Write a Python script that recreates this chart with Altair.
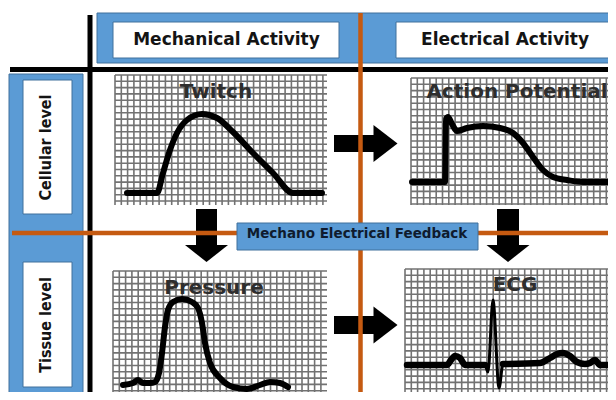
import altair as alt
import pandas as pd
import numpy as np

# ---------------- data (texts and waveform values) ----------------
header_labels = ["Mechanical Activity", "Electrical Activity"]
row_labels = ["Cellular level", "Tissue level"]
panel_titles = ["Twitch", "Action Potential", "Pressure", "ECG"]
feedback_label = "Mechano Electrical Feedback"

# waveforms: time / amplitude samples, panel-local units (down = larger)
twitch_t = [12, 42, 48, 55, 62, 72, 87, 102, 118, 138, 158, 178, 207]
twitch_v = [118, 118, 98, 75, 58, 45, 39, 43, 57, 78, 98, 118, 118]
ap_t = [1, 34, 35, 37, 41, 46, 56, 72, 89, 102, 112, 122, 132, 142, 156, 172, 205]
ap_v = [104, 104, 41, 39, 46, 53, 50, 48, 50, 55, 65, 79, 92, 99, 102, 104, 104]
pressure_t = [10, 20, 25, 30, 37, 42, 46, 49, 52, 55, 60, 69, 79, 85, 89, 92, 97,
              107, 120, 134, 147, 157, 167, 175]
pressure_v = [114, 112, 109, 112, 112, 111, 102, 82, 56, 39, 31, 28, 31, 37, 52, 72,
              92, 107, 116, 118, 114, 111, 112, 116]
ecg_t = [2, 42, 46, 50, 55, 60, 80, 83, 88, 94, 98, 135, 145, 152, 158, 165, 172, 180,
         185, 190, 195, 208]
ecg_v = [96, 96, 91, 87, 89, 96, 96, 103, 31, 119, 95, 94, 89, 85, 84, 87, 93, 95,
         94, 91, 96, 96]

# ---------------- layout ----------------
W, H = 600, 384
BLUE = "#5b9bd5"
BLUE_EDGE = "#41719c"
ORANGE = "#c55a11"
PITCH = 6.3

xs = alt.Scale(domain=[8, 8 + W], nice=False, zero=False)
ys = alt.Scale(domain=[8, 8 + H], nice=False, zero=False, reverse=True)

panels = {
    "Twitch": (115, 75, 327, 205),
    "Action Potential": (411, 78, 620, 205),
    "Pressure": (113, 271, 327, 404),
    "ECG": (405, 269, 613, 404),
}


def X(f="x"):
    return alt.X(f"{f}:Q", scale=xs, axis=None)


def Y(f="y"):
    return alt.Y(f"{f}:Q", scale=ys, axis=None)


def rects(rows, fill, stroke=None, sw=0):
    df = pd.DataFrame(rows, columns=["x", "x2", "y", "y2"])
    kw = dict(fill=fill, strokeWidth=sw)
    if stroke:
        kw["stroke"] = stroke
    return alt.Chart(df).mark_rect(**kw).encode(
        x=X(), x2="x2:Q", y=Y(), y2="y2:Q")


def rules(rows, color, width):
    df = pd.DataFrame(rows, columns=["x", "x2", "y", "y2"])
    return alt.Chart(df).mark_rule(color=color, strokeWidth=width).encode(
        x=X(), x2="x2:Q", y=Y(), y2="y2:Q")


# blue bands and white label boxes
blue = rects([[97, 620, 13, 63], [9, 83, 74, 398]], BLUE, BLUE_EDGE, 1)
white = rects([[113, 339, 22, 58], [396, 614, 22, 58],
               [23, 72, 80, 214], [23, 72, 262, 387]], "white", BLUE_EDGE, 1)

# grid paper
grid_rows = []
for name, (x0, y0, x1, y1) in panels.items():
    for gx in np.arange(x0, x1 + 0.1, PITCH):
        grid_rows.append([gx, gx, y0, y1])
    for gy in np.arange(y0, y1 + 0.1, PITCH):
        grid_rows.append([x0, x1, gy, gy])
grid = rules(grid_rows, "#727272", 1.6)


# waveforms
def curve(name, t, v, width, interp="monotone", part=None):
    x0, y0 = panels[name][0], panels[name][1]
    df = pd.DataFrame({"x": np.array(t, float) + x0, "y": np.array(v, float) + y0,
                       "i": range(len(t))})
    df["g"] = part if part is not None else 0
    return alt.Chart(df).mark_line(
        color="black", strokeWidth=width, interpolate=interp,
        strokeCap="round", strokeJoin="round").encode(
        x=X(), y=Y(), order="i:Q", detail="g:N")


tw = curve("Twitch", twitch_t, twitch_v, 6)
ap = curve("Action Potential", ap_t, ap_v, 6)
pr = curve("Pressure", pressure_t, pressure_v, 6)
ecg_thin = curve("ECG", ecg_t, ecg_v, 3)
ecg_part = [0 if ecg_t[i] <= 80 else (1 if ecg_t[i] < 98 else 2) for i in range(len(ecg_t))]
ecg_keep = [i for i in range(len(ecg_t)) if ecg_part[i] != 1]
ecg_thick = curve("ECG", [ecg_t[i] for i in ecg_keep], [ecg_v[i] for i in ecg_keep], 6.5,
                  part=[ecg_part[i] for i in ecg_keep])

# arrows: shafts as rects, heads as custom symbols
shafts = rects([[334, 374, 135, 152], [334, 374, 316, 334],
                [196, 217, 209, 246], [497, 519, 209, 246]], "black")
RH_SIDE, DH_SIDE = 37, 43
right_heads = alt.Chart(pd.DataFrame({"x": [385.5, 385.5], "y": [143.5, 325]})).mark_point(
    shape="M -0.65 -1 L 0.65 0 L -0.65 1 Z", filled=True, color="black", opacity=1,
    size=RH_SIDE ** 2, strokeWidth=0).encode(x=X(), y=Y())
down_heads = alt.Chart(pd.DataFrame({"x": [206.5, 508], "y": [253.5, 253.5]})).mark_point(
    shape="M -1 -0.4 L 1 -0.4 L 0 0.4 Z", filled=True, color="black", opacity=1,
    size=DH_SIDE ** 2, strokeWidth=0).encode(x=X(), y=Y())

# separator lines
black_lines = rules([[90, 90, 15, 400], [10, 620, 69.5, 69.5]], "black", 5)
orange_lines = rules([[360.5, 360.5, 13, 400], [12, 620, 233, 233]], ORANGE, 4.5)

feedback_box = rects([[237, 478, 223, 250]], BLUE, BLUE_EDGE, 1)


# texts
def texts(rows, font, size, color, weight="bold", angle=0):
    df = pd.DataFrame(rows, columns=["x", "y", "t"])
    return alt.Chart(df).mark_text(
        font=font, fontSize=size, fontWeight=weight, color=color, angle=angle,
        align="center", baseline="middle").encode(x=X(), y=Y(), text="t:N")


head_txt = texts([[226.5, 40, header_labels[0]], [505, 40, header_labels[1]]],
                 "DejaVu Sans", 17, "#141414")
row_txt = texts([[46, 147.5, row_labels[0]], [46, 325, row_labels[1]]],
                "DejaVu Sans Condensed", 16, "#141414", angle=270)
title_txt = texts([[216, 92, panel_titles[0]], [517, 92, panel_titles[1]],
                   [214, 288, panel_titles[2]], [515, 285, panel_titles[3]]],
                  "DejaVu Sans", 20, "#2e2e2e")
fb_txt = texts([[357, 234, feedback_label]], "DejaVu Sans", 13.5, "#0f1b2e")

chart = alt.layer(
    blue, white, grid, tw, ap, pr, ecg_thin, ecg_thick,
    shafts, right_heads, down_heads, black_lines, orange_lines, feedback_box,
    head_txt, row_txt, title_txt, fb_txt,
).properties(
    width=W, height=H, padding=0, autosize=alt.AutoSizeParams(type="none")
).configure_view(strokeWidth=0)

chart.save("out.html", embed_options={"renderer": "svg", "actions": False})
